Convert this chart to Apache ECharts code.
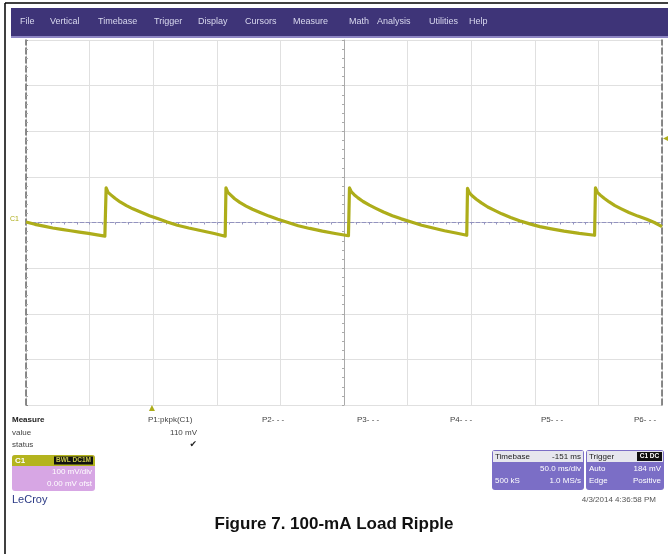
<!DOCTYPE html>
<html><head><meta charset="utf-8">
<script src="https://cdn.jsdelivr.net/npm/echarts@6/dist/echarts.min.js"></script>
<style>html,body{margin:0;padding:0;background:#fff}#c{width:668px;height:554px}</style>
</head><body><div id="c"></div><script>
// ---- data ----
const menuItems = ['File','Vertical','Timebase','Trigger','Display','Cursors','Measure','Math','Analysis','Utilities','Help'];
const measureLabels = ['P1:pkpk(C1)','P2- - -','P3- - -','P4- - -','P5- - -','P6- - -'];
const measureValue = '110 mV';
// time (ms, relative to screen centre) and voltage (mV) of channel C1
const traceTime = [
  -250,-243,-236,-229,-222,-215,-208,-201,-194,-188,
  -187.2,-187,-185.5,-183,-180,-176,-171,-166,-160,-153,-146,-139,-131,-122,-112,-102,-93.4,
  -93,-92.8,-91.3,-89,-86,-82,-77,-72,-66,-59,-52,-44,-36,-27,-17,-7,3.5,
  4,4.3,5.8,8,11,15,20,25,31,38,45,53,61,70,79,88,96.5,
  96.8,97.1,98.6,101,104,108,113,118,124,131,138,146,154,163,173,185,197,
  197.4,197.7,199.2,201.5,204.5,208.5,213,218,224,231,238,244,250];
const traceMv = [
  1,-4,-8,-12,-15,-18,-21,-24,-27,-30,
  -31,76,66,60,53,45,37,30,23,15,8,1,-6,-12,-18,-24,-30,
  -31,76,66,60,52,44,36,29,22,14,7,0,-7,-13,-19,-24,-29,
  -30,76,67,61,54,46,38,31,23,15,8,1,-6,-12,-18,-23,-28,
  -29,75,65,58,51,43,34,27,19,11,4,-3,-9,-14,-19,-24,-28,
  -29,76,66,60,53,45,37,30,22,14,7,0,-9];
const triggerLevelMv = 184;
const triggerDelayMs = -151;
const timeRange = [-250, 250];   // 50 ms/div x 10 div
const voltRange = [-400, 400];   // 100 mV/div x 8 div

// ---- chart ----
const chart = echarts.init(document.getElementById('c'), null, {renderer:'canvas'});
const traceColor = '#adad1a';
const uiFont = '"Liberation Sans", Arial, sans-serif';
const data = traceTime.map((t,i)=>[t, traceMv[i]]);

const menuX = [20,50,98,154,198,245,293,349,377,429,469];
const measX = [148,262,357,450,541,634];
const g = [];
g.push({type:'line', shape:{x1:5,y1:3,x2:5,y2:554}, style:{stroke:'#000', lineWidth:1.5}});
g.push({type:'line', shape:{x1:5,y1:3,x2:668,y2:3}, style:{stroke:'#000', lineWidth:1.5}});
g.push({type:'rect', shape:{x:11,y:8,width:657,height:29}, style:{fill:'#3e3478'}});
g.push({type:'rect', shape:{x:11,y:36,width:657,height:2}, style:{fill:'#8e86c4'}});
menuItems.forEach((m,i)=>g.push({type:'text', style:{text:m, x:menuX[i], y:22, fill:'#d8d8ee', font:'9px '+uiFont, verticalAlign:'middle'}}));

// measure table
g.push({type:'text', style:{text:'Measure', x:12, y:420, fill:'#222', font:'bold 8px '+uiFont, verticalAlign:'middle'}});
g.push({type:'text', style:{text:'value', x:12, y:433, fill:'#444', font:'8px '+uiFont, verticalAlign:'middle'}});
g.push({type:'text', style:{text:'status', x:12, y:445, fill:'#444', font:'8px '+uiFont, verticalAlign:'middle'}});
measureLabels.forEach((m,i)=>g.push({type:'text', style:{text:m, x:measX[i], y:420, fill:'#444', font:'8px '+uiFont, verticalAlign:'middle'}}));
g.push({type:'text', style:{text:measureValue, x:197, y:433, fill:'#444', font:'8px '+uiFont, align:'right', verticalAlign:'middle'}});
g.push({type:'text', style:{text:'\u2714', x:197, y:445, fill:'#222', font:'9px "DejaVu Sans"', align:'right', verticalAlign:'middle'}});

// C1 descriptor box
g.push({type:'rect', shape:{x:12,y:455,width:83,height:36,r:3}, style:{fill:'#d7a6e4'}});
g.push({type:'rect', shape:{x:12,y:455,width:83,height:11,r:[3,3,0,0]}, style:{fill:'#b4b41e'}});
g.push({type:'text', style:{text:'C1', x:15, y:460.5, fill:'#fff', font:'bold 8px '+uiFont, verticalAlign:'middle'}});
g.push({type:'rect', shape:{x:54,y:456.5,width:39,height:8}, style:{fill:'#111'}});
g.push({type:'text', style:{text:'BWL DC1M', x:73.5, y:460.5, fill:'#c9c94c', font:'bold 6.5px '+uiFont, align:'center', verticalAlign:'middle'}});
g.push({type:'text', style:{text:'100 mV/div', x:92, y:472, fill:'#fff', font:'8px '+uiFont, align:'right', verticalAlign:'middle'}});
g.push({type:'text', style:{text:'0.00 mV ofst', x:92, y:484, fill:'#fff', font:'8px '+uiFont, align:'right', verticalAlign:'middle'}});

// Timebase box
g.push({type:'rect', shape:{x:492,y:450,width:92,height:40,r:3}, style:{fill:'#7b6ec6'}});
g.push({type:'rect', shape:{x:493,y:451,width:90,height:11}, style:{fill:'#e6e6ee'}});
g.push({type:'text', style:{text:'Timebase', x:495, y:456.5, fill:'#222', font:'8px '+uiFont, verticalAlign:'middle'}});
g.push({type:'text', style:{text:'-151 ms', x:581, y:456.5, fill:'#222', font:'8px '+uiFont, align:'right', verticalAlign:'middle'}});
g.push({type:'text', style:{text:'50.0 ms/div', x:581, y:469, fill:'#fff', font:'8px '+uiFont, align:'right', verticalAlign:'middle'}});
g.push({type:'text', style:{text:'500 kS', x:495, y:481, fill:'#fff', font:'8px '+uiFont, verticalAlign:'middle'}});
g.push({type:'text', style:{text:'1.0 MS/s', x:581, y:481, fill:'#fff', font:'8px '+uiFont, align:'right', verticalAlign:'middle'}});

// Trigger box
g.push({type:'rect', shape:{x:586,y:450,width:78,height:40,r:3}, style:{fill:'#7b6ec6'}});
g.push({type:'rect', shape:{x:587,y:451,width:76,height:11}, style:{fill:'#e6e6ee'}});
g.push({type:'text', style:{text:'Trigger', x:589, y:456.5, fill:'#222', font:'8px '+uiFont, verticalAlign:'middle'}});
g.push({type:'rect', shape:{x:637,y:452,width:25,height:9}, style:{fill:'#111'}});
g.push({type:'text', style:{text:'C1 DC', x:649.5, y:456.5, fill:'#fff', font:'bold 6.5px '+uiFont, align:'center', verticalAlign:'middle'}});
g.push({type:'text', style:{text:'Auto', x:589, y:469, fill:'#fff', font:'8px '+uiFont, verticalAlign:'middle'}});
g.push({type:'text', style:{text:triggerLevelMv+' mV', x:661, y:469, fill:'#fff', font:'8px '+uiFont, align:'right', verticalAlign:'middle'}});
g.push({type:'text', style:{text:'Edge', x:589, y:481, fill:'#fff', font:'8px '+uiFont, verticalAlign:'middle'}});
g.push({type:'text', style:{text:'Positive', x:661, y:481, fill:'#fff', font:'8px '+uiFont, align:'right', verticalAlign:'middle'}});

// footer
g.push({type:'text', style:{text:'LeCroy', x:12, y:500, fill:'#2b3a85', font:'11px '+uiFont, verticalAlign:'middle'}});
g.push({type:'text', style:{text:'4/3/2014 4:36:58 PM', x:656, y:500, fill:'#555', font:'8px '+uiFont, align:'right', verticalAlign:'middle'}});
g.push({type:'text', style:{text:'Figure 7. 100-mA Load Ripple', x:334, y:524, fill:'#111', font:'bold 17px '+uiFont, align:'center', verticalAlign:'middle'}});

const gridLine = {lineStyle:{color:'#e0e0e0', width:1}};
chart.setOption({
  animation:false,
  backgroundColor:'#fff',
  grid:{left:26, top:40, width:636, height:365},
  xAxis:{type:'value', min:timeRange[0], max:timeRange[1], interval:50,
    axisLine:{show:true, onZero:true, lineStyle:{color:'#9393bf', type:'dashed', width:1}},
    axisTick:{show:true, length:2, lineStyle:{color:'#9393bf'}},
    minorTick:{show:true, splitNumber:5, length:2, lineStyle:{color:'#9393bf'}},
    axisLabel:{show:false}, splitLine:gridLine},
  yAxis:[
    {type:'value', min:voltRange[0], max:voltRange[1], interval:100, position:'left',
     axisLine:{show:true, onZero:false, lineStyle:{color:'#666', type:'dashed', width:1.5}},
     axisTick:{show:true, inside:true, length:2, lineStyle:{color:'#888'}},
     minorTick:{show:true, splitNumber:5, length:2, lineStyle:{color:'#aaa'}},
     axisLabel:{show:false}, splitLine:gridLine},
    {type:'value', min:voltRange[0], max:voltRange[1], interval:100, position:'right',
     axisLine:{show:true, onZero:false, lineStyle:{color:'#666', type:'dashed', width:1.5}},
     axisTick:{show:false}, axisLabel:{show:false}, splitLine:{show:false}},
    {type:'value', min:voltRange[0], max:voltRange[1], interval:100, position:'left',
     axisLine:{show:true, onZero:true, lineStyle:{color:'#aaa', width:1}},
     axisTick:{show:true, length:2, lineStyle:{color:'#aaa'}},
     minorTick:{show:true, splitNumber:5, length:2, lineStyle:{color:'#aaa'}},
     axisLabel:{show:false}, splitLine:{show:false}}
  ],
  series:[{
    type:'line', data:data, showSymbol:false, symbol:'none', clip:false,
    lineStyle:{color:traceColor, width:3.2, join:'round'}, itemStyle:{color:traceColor},
    markPoint:{
      silent:true,
      data:[
        {coord:[timeRange[1], triggerLevelMv], symbol:'triangle', symbolSize:[6,6], symbolRotate:90, symbolOffset:[4,0], itemStyle:{color:traceColor}, label:{show:false}},
        {coord:[triggerDelayMs, voltRange[0]], symbol:'triangle', symbolSize:[6,6], symbolOffset:[0,3], itemStyle:{color:traceColor}, label:{show:false}},
        {coord:[timeRange[0], 0], symbol:'circle', symbolSize:0, label:{show:true, position:'left', formatter:'C1', color:traceColor, fontSize:7, offset:[-2,-3], fontFamily:'Liberation Sans'}}
      ]
    }
  }],
  graphic:g
});
</script></body></html>
